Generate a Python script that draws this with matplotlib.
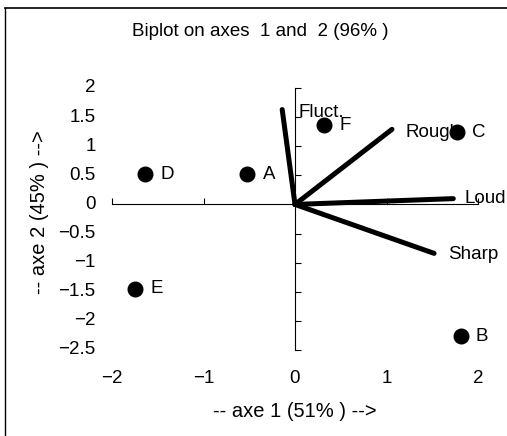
import matplotlib
matplotlib.use("Agg")
from matplotlib import pyplot as plt
from matplotlib.lines import Line2D
import matplotlib.transforms as mtransforms

plt.rcParams['font.family'] = ['Liberation Sans', 'DejaVu Sans']

# observations (scores on axes 1 and 2)
obs_names = ["D", "A", "F", "C", "E", "B"]
obs_x = [-1.64, -0.52, 0.32, 1.77, -1.75, 1.81]
obs_y = [0.52, 0.52, 1.36, 1.24, -1.45, -2.26]

# variables (loading vectors)
var_names = ["Fluct.", "Rough", "Loud", "Sharp"]
var_x = [-0.14, 1.06, 1.73, 1.52]
var_y = [1.63, 1.29, 0.10, -0.84]
var_offsets = [(12, -2), (10, -2), (8, 0), (10, -1)]

x_ticks = [-2, -1, 0, 1, 2]
y_ticks = [2, 1.5, 1, 0.5, 0, -0.5, -1, -1.5, -2, -2.5]

FS = 13.5

fig = plt.figure(figsize=(5.07, 4.36), dpi=100)
ax = fig.add_axes([112 / 507, 1 - 350 / 436, 366 / 507, 262 / 436])
ax.set_xlim(-2, 2)
ax.set_ylim(-2.5, 2)

for side in ["top", "right"]:
    ax.spines[side].set_visible(False)
ax.spines["left"].set_position(("data", 0))
ax.spines["bottom"].set_position(("data", 0))
ax.spines["left"].set_linewidth(0.8)
ax.spines["bottom"].set_linewidth(0.8)

ax.set_xticks(x_ticks)
ax.set_yticks(y_ticks)
ax.tick_params(axis="x", direction="in", length=4, width=0.8, labelbottom=False)
ax.tick_params(axis="y", direction="in", length=4, width=0.8, labelleft=False)

# tick labels kept at the outer edges like the original
ty = mtransforms.blended_transform_factory(ax.transAxes, ax.transData)
for v in y_ticks:
    lab = ("%g" % v).replace("-", "\u2212")
    ax.text(-0.045, v, lab, transform=ty, ha="right", va="center", fontsize=FS)
tx = mtransforms.blended_transform_factory(ax.transData, ax.transAxes)
for v in x_ticks:
    lab = ("%g" % v).replace("-", "\u2212")
    ax.text(v, -0.11, lab, transform=tx, ha="center", va="center", fontsize=FS)

# vectors
for name, vx, vy, off in zip(var_names, var_x, var_y, var_offsets):
    ax.plot([0, vx], [0, vy], color="black", linewidth=3.6, solid_capstyle="round",
            clip_on=False, zorder=3)
    ax.annotate(name, (vx, vy), xytext=off, textcoords="offset points",
                ha="left", va="center", fontsize=FS, annotation_clip=False, zorder=2)

# observations
ax.plot(obs_x, obs_y, "o", color="black", markersize=10.5, clip_on=False, zorder=4)
for name, ox, oy in zip(obs_names, obs_x, obs_y):
    ax.annotate(name, (ox, oy), xytext=(11, 0), textcoords="offset points",
                ha="left", va="center", fontsize=FS, annotation_clip=False)

fig.text(260 / 507, 1 - 32 / 436, "Biplot on axes  1 and  2 (96% )",
         ha="center", va="center", fontsize=FS)
fig.text(295 / 507, 1 - 411 / 436, "-- axe 1 (51% ) -->",
         ha="center", va="center", fontsize=14.5)
fig.text(40 / 507, 1 - 212 / 436, "-- axe 2 (45% ) -->",
         ha="center", va="center", fontsize=14.5, rotation=90)

# frame lines of the scanned figure
fig.add_artist(Line2D([5 / 507, 1.0], [1 - 8 / 436, 1 - 8 / 436],
                      transform=fig.transFigure, color="black", linewidth=1.2))
fig.add_artist(Line2D([5 / 507, 5 / 507], [0.0, 1 - 8 / 436],
                      transform=fig.transFigure, color="black", linewidth=1.0))

fig.savefig("out.png", dpi=100)
